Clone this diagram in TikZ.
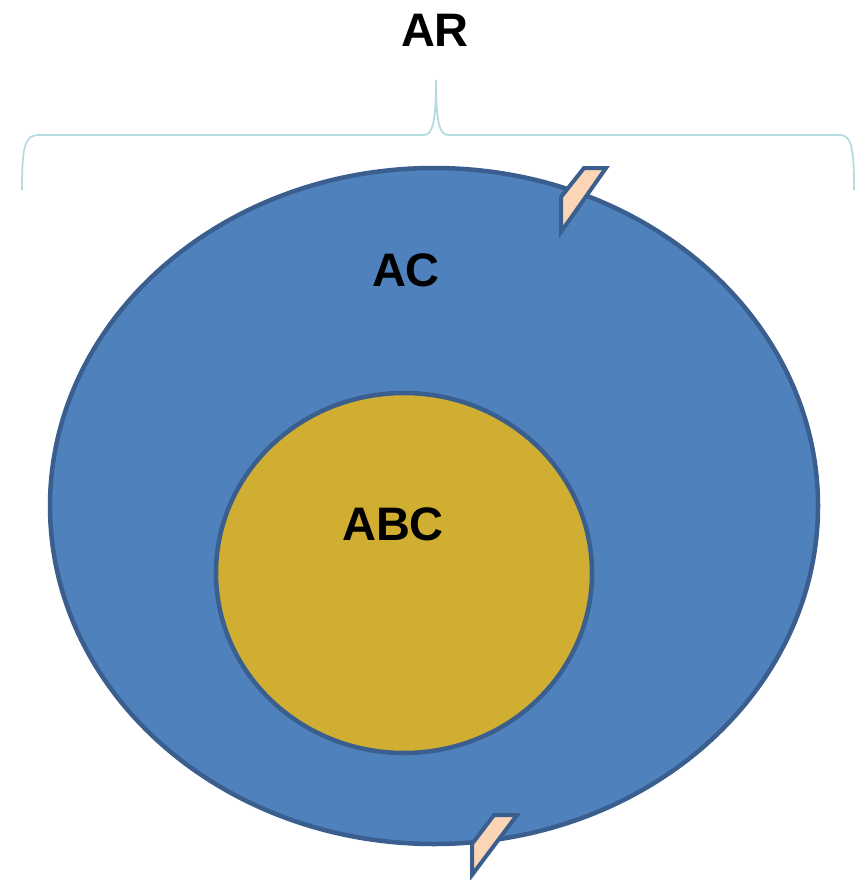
\documentclass[tikz,border=0pt]{standalone}
\usepackage{fontspec}
\setmainfont{Liberation Sans}
\definecolor{outerblue}{HTML}{4F81BD}
\definecolor{edgeblue}{HTML}{3A5F8F}
\definecolor{innergold}{HTML}{D0AE32}
\definecolor{peach}{HTML}{FBD5B5}
\definecolor{bracecyan}{HTML}{B4DCE0}
\tikzset{
  setlabel/.style={font=\fontsize{47}{52}\selectfont\bfseries},
  marker/.style={fill=peach,draw=edgeblue,line width=4pt,line join=miter}
}
\begin{document}
\begin{tikzpicture}[x=1pt,y=-1pt]
\useasboundingbox (0,0) rectangle (859,880);

% brace over the whole set
\draw[bracecyan,line width=1.8pt] (22,190) .. controls (22,150) and (24,135) .. (38,135) -- (424,135)
  .. controls (433,135) and (436,120) .. (436,80)
  .. controls (436,120) and (439,135) .. (448,135) -- (840,135)
  .. controls (852,135) and (854,150) .. (854,190);

% Mark the sets
\filldraw[fill=outerblue,draw=edgeblue,line width=4.5pt] (434,506) ellipse (384 and 338);
\filldraw[fill=innergold,draw=edgeblue,line width=4.5pt] (404,573) ellipse (188 and 180);

% small cut markers
\filldraw[marker] (584,168) -- (606,168) -- (561,232) -- (561,197) -- cycle;
\filldraw[marker] (494,815) -- (517,815) -- (472,875) -- (472,844) -- cycle;

\node[setlabel] (ar) at (435,30) {AR};
\node[setlabel] (ac) at (406,270) {AC};
\node[setlabel] (abc) at (393,524) {ABC};
\end{tikzpicture}
\end{document}
